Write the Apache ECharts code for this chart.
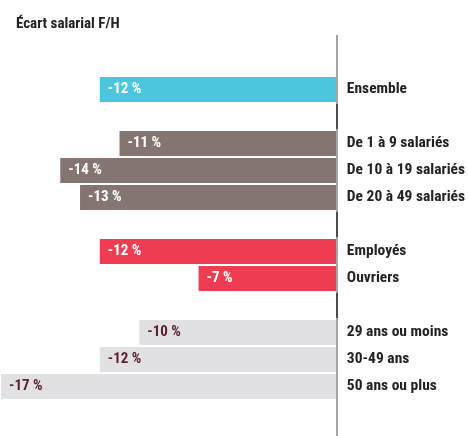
<!DOCTYPE html>
<html>
<head>
<meta charset="utf-8">
<script src="https://cdn.jsdelivr.net/npm/echarts@6/dist/echarts.min.js"></script>
<style>
  html, body { margin: 0; padding: 0; background: #fff; }
  #chart { width: 468px; height: 436px; }
</style>
</head>
<body>
<div id="chart"></div>
<script>
// Gender pay gap by population (women vs men, %)
const categories = [
  'Ensemble', '',
  'De 1 à 9 salariés', 'De 10 à 19 salariés', 'De 20 à 49 salariés', '',
  'Employés', 'Ouvriers', '',
  '29 ans ou moins', '30-49 ans', '50 ans ou plus'
];
const gaps = [-12, null, -11, -14, -13, null, -12, -7, null, -10, -12, -17];
const groups = ['all', null, 'size', 'size', 'size', null, 'job', 'job', null, 'age', 'age', 'age'];

const FONT = '"Roboto Condensed", Roboto, sans-serif';
const groupStyle = {
  all:  { bar: '#4cc5df', text: '#ffffff' },
  size: { bar: '#857570', text: '#ffffff' },
  job:  { bar: '#ee3d53', text: '#ffffff' },
  age:  { bar: '#e1e1e3', text: '#5b1f2b' }
};

const barData = gaps.map((v, i) => {
  if (v === null) return { value: null };
  const s = groupStyle[groups[i]];
  return {
    value: v,
    itemStyle: { color: s.bar },
    label: { color: s.text }
  };
});

const chart = echarts.init(document.getElementById('chart'), null, { renderer: 'canvas' });

chart.setOption({
  animation: false,
  title: {
    text: 'Écart salarial F/H',
    left: 11, top: 12,
    textStyle: { fontFamily: FONT, fontSize: 15, fontWeight: 'bold', color: '#222' }
  },
  grid: { left: 1, right: 130, top: 76, height: 324, containLabel: false },
  xAxis: {
    type: 'value', min: -17, max: 0,
    show: false
  },
  yAxis: {
    type: 'category',
    data: categories,
    inverse: true,
    position: 'right',
    axisLine: { show: false },
    axisTick: { show: false },
    splitLine: { show: false },
    axisLabel: {
      margin: 10,
      align: 'left',
      fontFamily: FONT,
      fontSize: 15.5,
      fontWeight: 'bold',
      color: '#222'
    }
  },
  series: [{
    type: 'bar',
    data: barData,
    barWidth: 25,
    label: {
      show: true,
      position: 'insideLeft',
      distance: 8,
      fontFamily: FONT,
      fontSize: 15,
      fontWeight: 'bold',
      formatter: p => p.value + ' %'
    }
  }]
});

// Zero reference line, extending past the plot area, darker between groups
const x0 = Math.round(chart.convertToPixel({ xAxisIndex: 0 }, 0));
const graphics = [{
  type: 'line',
  shape: { x1: x0, y1: 35, x2: x0, y2: 436 },
  style: { stroke: '#a9a39f', lineWidth: 2 },
  z: 10
}];
gaps.forEach((v, i) => {
  if (v !== null) return;
  const yc = chart.convertToPixel({ yAxisIndex: 0 }, i);
  graphics.push({
    type: 'line',
    shape: { x1: x0, y1: yc - 12.5, x2: x0, y2: yc + 12.5 },
    style: { stroke: '#524a49', lineWidth: 2 },
    z: 11
  });
});
chart.setOption({ graphic: graphics });
</script>
</body>
</html>
